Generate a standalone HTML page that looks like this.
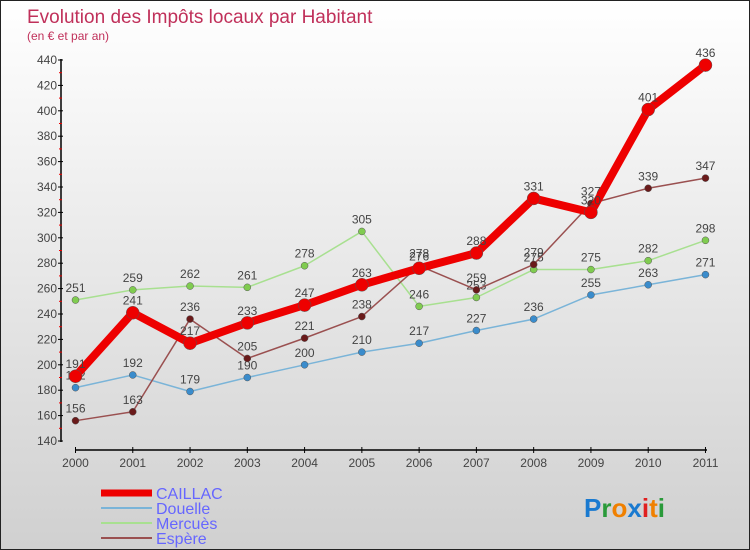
<!DOCTYPE html>
<html><head><meta charset="utf-8"><style>
body{margin:0}
#wrap{width:748px;height:548px;border:1px solid #222;background:linear-gradient(#fff,#d0d0d0);position:relative;overflow:hidden;font-family:"Liberation Sans",sans-serif}
</style></head><body>
<div id="wrap">
<svg id="chart" width="748" height="548"></svg>
</div>
<script>
const years=["2000","2001","2002","2003","2004","2005","2006","2007","2008","2009","2010","2011"];
const caillac=[191,241,217,233,247,263,276,288,331,320,401,436];
const douelle=[182,192,179,190,200,210,217,227,236,255,263,271];
const mercues=[251,259,262,261,278,305,246,253,275,275,282,298];
const espere=[156,163,236,205,221,238,278,259,279,327,339,347];
const yTicks=[140,160,180,200,220,240,260,280,300,320,340,360,380,400,420,440];
const NS="http://www.w3.org/2000/svg";
const svg=document.getElementById('chart');
function xS(i){return 75.5+i*57.27-1;}
function yS(v){return 441-(v-140)*(381/300)-1;}
function el(t,a,p){const e=document.createElementNS(NS,t);for(const k in a)e.setAttribute(k,a[k]);(p||svg).appendChild(e);return e;}
let t=el('text',{x:26,y:22,fill:'#c0305a','font-size':19});t.textContent='Evolution des Impôts locaux par Habitant';

t=el('text',{x:26,y:39,fill:'#c0305a','font-size':12});t.textContent='(en € et par an)';

// axes
let a=el('line',{x1:60,y1:58,x2:60,y2:441,stroke:'#000','stroke-width':1.5});

a=el('line',{x1:74,y1:449,x2:706,y2:449,stroke:'#000','stroke-width':1.5});

yTicks.forEach((v,i)=>{const y=yS(v);
 el('line',{x1:57,y1:y,x2:62,y2:y,stroke:'#000'});
 if(i<yTicks.length-1)el('line',{x1:58,y1:yS(v+10),x2:61,y2:yS(v+10),stroke:'#e00'});
 const tx=el('text',{x:56,y:y+4,'text-anchor':'end','font-size':12,fill:'#444'});tx.textContent=v;
 });
years.forEach((yr,i)=>{const x=xS(i);
 el('line',{x1:x,y1:446,x2:x,y2:452,stroke:'#000'});
 const tx=el('text',{x:x,y:466,'text-anchor':'middle','font-size':12,fill:'#444'});tx.textContent=yr;
 });
function series(vals,color,dot,w,r,name){
 const g=el('g',{});
 el('polyline',{points:vals.map((v,i)=>xS(i)+','+yS(v)).join(' '),fill:'none',stroke:color,'stroke-width':w,'stroke-linejoin':'round'},g);
 vals.forEach((v,i)=>{const c=el('circle',{cx:xS(i),cy:yS(v),r:r,fill:dot,stroke:'#555','stroke-width':0.5},g);
  
  const tx=el('text',{x:xS(i),y:yS(v)-8,'text-anchor':'middle','font-size':12,fill:'#444'},g);tx.textContent=v;});
}
series(douelle,'#7ab4d8','#3a8ccc',1.5,3.5,'series-douelle');
series(mercues,'#a8e090','#80cc50',1.5,3.5,'series-mercues');
series(espere,'#9a5050','#6a1a1a',1.5,3.5,'series-espere');
series(caillac,'#ee0000','#ee0000',8,6.5,'series-caillac');
// legend
const leg=[['CAILLAC','#ee0000',7],['Douelle','#7ab4d8',2],['Mercuès','#a8e090',2],['Espère','#9a5050',2]];
leg.forEach((l,i)=>{const y=492+i*15;const g=el('g',{});
 
 el('line',{x1:100,y1:y,x2:151,y2:y,stroke:l[1],'stroke-width':l[2]},g);
 const tx=el('text',{x:155,y:y+6,'font-size':16,fill:'#6666ff'},g);tx.textContent=l[0];});
// logo
const lg=el('text',{x:583,y:516,'font-size':26,'font-weight':'bold'});

[['P','#1a7ad0'],['r','#2a9a3a'],['o','#f08000'],['x','#1a7ad0'],['i','#e02020'],['t','#f08000'],['i','#2a9a3a']].forEach(p=>{const s=el('tspan',{fill:p[1]},lg);s.textContent=p[0];});
</script>
</body></html>
